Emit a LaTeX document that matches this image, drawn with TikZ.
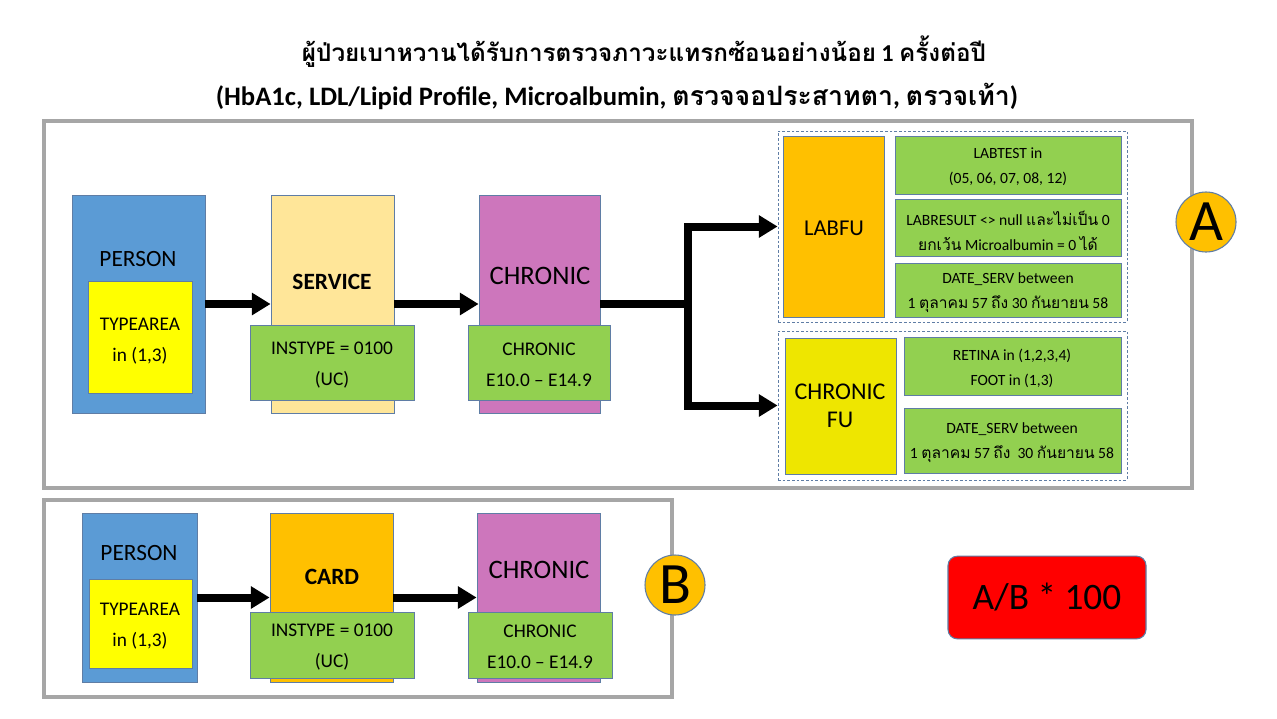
\documentclass[tikz,border=0pt]{standalone}
\usepackage{fontspec}
\setmainfont{Carlito}
\newfontfamily\thaifont[Script=Thai]{Loma}
\newcommand{\thx}[1]{{\thaifont #1}}
\newcommand{\fs}[2]{\fontsize{#1}{#2}\selectfont}
\usetikzlibrary{arrows.meta,fit}
\definecolor{cblue}{HTML}{5B9BD5}
\definecolor{cltyel}{HTML}{FFE699}
\definecolor{cpurple}{RGB}{205,118,188}
\definecolor{cgreen}{HTML}{92D050}
\definecolor{corange}{HTML}{FFC000}
\definecolor{cyellow}{HTML}{FFFF00}
\definecolor{cfuyel}{RGB}{238,230,0}
\definecolor{cgray}{HTML}{A6A6A6}
\definecolor{bord}{RGB}{95,125,165}
\definecolor{cred}{HTML}{FF0000}
\begin{document}
\begin{tikzpicture}[x=0.75pt,y=-0.75pt,
  box/.style={draw=bord, line width=0.6pt, inner sep=0pt},
  grn/.style={box, fill=cgreen},
  grpbox/.style={draw=bord, line width=0.6pt, dash pattern=on 2pt off 1.5pt, inner sep=0pt},
  frm/.style={draw=cgray, line width=3pt},
  arr/.style={line width=6pt, -{Triangle[length=14pt,width=16pt]}},
  lbl/.style={align=center, inner sep=0pt},
  bigtxt/.style={lbl, font=\fs{17.5}{21}},
  midtxt/.style={lbl, font=\fs{14.5}{23}},
  smtxt/.style={lbl, font=\fs{11.7}{18.75}},
  circ/.style={circle, fill=corange, draw=bord, line width=0.8pt, minimum size=45pt, inner sep=0pt, font=\fs{44}{44}}
]
\useasboundingbox (0,0) rectangle (1277,718);
\fill[white] (0,0) rectangle (1277,718);

% titles
\node[anchor=base, font=\fs{18.2}{24}\bfseries] (t1) at (644,61)
  {\thx{ผู้ป่วยเบาหวานได้รับการตรวจภาวะแทรกซ้อนอย่างน้อย} 1 \thx{ครั้งต่อปี}};
\node[anchor=base, font=\fs{20}{24}\bfseries] (t2) at (617,105)
  {(HbA1c, LDL/Lipid Profile, Microalbumin, \thx{ตรวจจอประสาทตา}, \thx{ตรวจเท้า})};

% frames
\node[frm, inner sep=0pt, fit={(44,121)(1192,488)}] (frameA) {};
\node[frm, inner sep=0pt, fit={(44,500)(672,697)}] (frameB) {};

% ---------- A ----------
\node[box, fill=cblue, fit={(72,195)(205,413)}] (personA) {};
\node[bigtxt] (personAt) at (138,259) {PERSON};
\node[box, fill=cyellow, fit={(88,281)(192,393)}] (typeA) {};
\node[midtxt] (typeAt) at (140,341) {TYPEAREA\\in (1,3)};

\node[box, fill=cltyel, fit={(271,195)(394,413)}] (serviceA) {};
\node[lbl, font=\fs{17.5}{21}\bfseries] (serviceAt) at (332,282) {SERVICE};
\node[grn, fit={(250,325)(414,400)}] (insA) {};
\node[midtxt] (insAt) at (332,365) {INSTYPE = 0100\\(UC)};

\node[box, fill=cpurple, fit={(479,195)(600,413)}] (chronA) {};
\node[lbl, font=\fs{20}{24}] (chronAt) at (540,276) {CHRONIC};
\node[grn, fit={(468,325)(610,400)}] (icdA) {};
\node[midtxt] (icdAt) at (539,365) {CHRONIC\\E10.0 -- E14.9};

% LABFU group
\node[grpbox, fit={(778,131)(1127,322)}] (labgrp) {};
\node[box, fill=corange, fit={(783,136)(884,317)}] (labfu) {};
\node[lbl, font=\fs{17}{21}] (labfut) at (834,228) {LABFU};
\node[grn, fit={(895,136)(1121,194)}] (lab1) {};
\node[smtxt] (lab1t) at (1008,167) {LABTEST in\\(05, 06, 07, 08, 12)};
\node[grn, fit={(895,199)(1121,256)}] (lab2) {};
\node[smtxt] (lab2t) at (1008,231) {LABRESULT {<}{>} null \thx{และไม่เป็น} 0\\\thx{ยกเว้น} Microalbumin = 0 \thx{ได้}};
\node[grn, fit={(895,263)(1121,317)}] (lab3) {};
\node[smtxt] (lab3t) at (1008,293) {DATE\_SERV between\\1 \thx{ตุลาคม} 57 \thx{ถึง} 30 \thx{กันยายน} 58};

% CHRONIC FU group
\node[grpbox, fit={(778,331)(1127,480)}] (cfugrp) {};
\node[box, fill=cfuyel, fit={(785,338)(896,474)}] (cfu) {};
\node[lbl, font=\fs{18}{21}] (cfut) at (840,406) {CHRONIC\\FU};
\node[grn, fit={(904,337)(1121,395)}] (cfu1) {};
\node[smtxt] (cfu1t) at (1012,368) {RETINA in (1,2,3,4)\\FOOT in (1,3)};
\node[grn, fit={(904,408)(1121,473)}] (cfu2) {};
\node[smtxt] (cfu2t) at (1012,443) {DATE\_SERV between\\1 \thx{ตุลาคม} 57 \thx{ถึง}\ \ 30 \thx{กันยายน} 58};

% arrows A
\coordinate (jn) at (688,304);
\draw[arr] (personA.east) -- (serviceA.west);
\draw[arr] (serviceA.east) -- (chronA.west);
\draw[line width=6pt] (chronA.east) -- (jn);
\draw[arr] (jn) |- (labgrp.west);
\draw[arr] (jn) |- (cfugrp.west);

\node[circ] (circA) at (1206,222) {A};

% ---------- B ----------
\node[box, fill=cblue, fit={(82,513)(197,682)}] (personB) {};
\node[bigtxt] (personBt) at (139,553) {PERSON};
\node[box, fill=cyellow, fit={(89,579)(192,668)}] (typeB) {};
\node[midtxt] (typeBt) at (140,626) {TYPEAREA\\in (1,3)};

\node[box, fill=corange, fit={(270,513)(393,682)}] (cardB) {};
\node[lbl, font=\fs{17.5}{21}\bfseries] (cardBt) at (332,577) {CARD};
\node[grn, fit={(250,612)(414,678)}] (insB) {};
\node[midtxt] (insBt) at (332,647) {INSTYPE = 0100\\(UC)};

\node[box, fill=cpurple, fit={(477,513)(600,682)}] (chronB) {};
\node[lbl, font=\fs{20}{24}] (chronBt) at (539,570) {CHRONIC};
\node[grn, fit={(468,612)(612,678)}] (icdB) {};
\node[midtxt] (icdBt) at (540,647) {CHRONIC\\E10.0 -- E14.9};

\draw[arr] (personB.east) -- (cardB.west);
\draw[arr] (cardB.east) -- (chronB.west);

\node[circ] (circB) at (675,585) {B};

% result
\node[rounded corners=7pt, fill=cred, draw=bord, line width=0.8pt, minimum width=148.5pt, minimum height=62pt, font=\fs{28}{30}] (res) at (1047,597.5) {A/B * 100};
\end{tikzpicture}
\end{document}
